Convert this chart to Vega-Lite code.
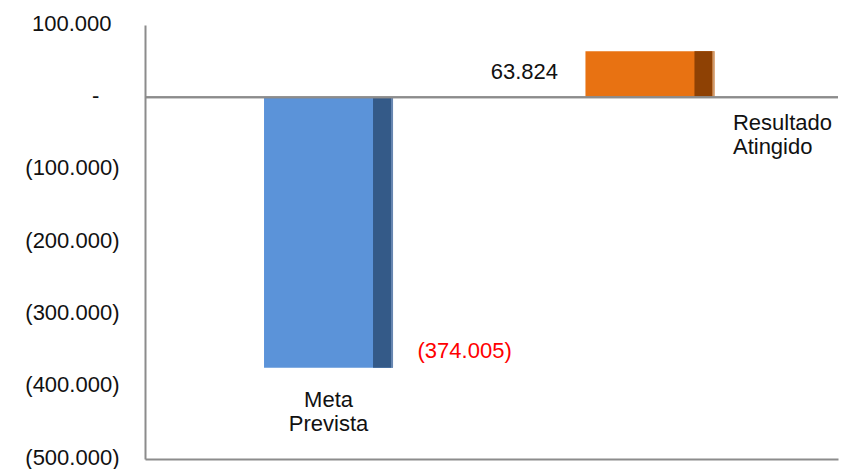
{
  "$schema": "https://vega.github.io/schema/vega-lite/v6.json",
  "width": 693,
  "height": 434,
  "autosize": {"type": "none"},
  "padding": {"left": 145, "top": 25, "right": 6, "bottom": 10},
  "background": "white",
  "config": {
    "locale": {"number": {"decimal": ",", "thousands": ".", "grouping": [3], "currency": ["R$", ""]}},
    "view": {"stroke": null},
    "font": "Liberation Sans",
    "text": {"font": "Liberation Sans", "fontSize": 22}
  },
  "data": {
    "values": [
      {"categoria": "Meta Prevista", "valor": -374005},
      {"categoria": "Resultado Atingido", "valor": 63824}
    ]
  },
  "encoding": {
    "x": {
      "field": "categoria",
      "type": "nominal",
      "sort": null,
      "scale": {"paddingInner": 0, "paddingOuter": 0.078, "align": 0.455},
      "axis": {
        "title": null,
        "labels": false,
        "ticks": false,
        "domainColor": "#8c8c8c",
        "domainWidth": 2,
        "orient": "bottom"
      }
    },
    "y": {
      "field": "valor",
      "type": "quantitative",
      "scale": {"domain": [-500000, 100000], "nice": false, "zero": false},
      "axis": {
        "title": null,
        "values": [-500000, -400000, -300000, -200000, -100000, 0, 100000],
        "format": "(,.0f",
        "labelExpr": "datum.value == 0 ? '-\u00a0\u00a0\u00a0\u200a\u200b' : (datum.value > 0 ? datum.label + '\u00a0\u200a\u200b' : datum.label)",
        "grid": false,
        "ticks": false,
        "domainColor": "#8c8c8c",
        "domainWidth": 2,
        "labelPadding": 26,
        "labelOffset": -2,
        "labelFont": "Liberation Sans",
        "labelFontSize": 22,
        "labelColor": "#111111"
      }
    }
  },
  "layer": [
    {
      "mark": {"type": "bar", "width": 129},
      "encoding": {
        "y2": {"datum": 0},
        "color": {
          "field": "categoria",
          "type": "nominal",
          "scale": {"domain": ["Meta Prevista", "Resultado Atingido"], "range": ["#5B93D9", "#E87212"]},
          "legend": null
        }
      }
    },
    {
      "mark": {"type": "bar", "width": 18, "xOffset": 53.5},
      "encoding": {
        "y2": {"datum": 0},
        "color": {
          "field": "categoria",
          "type": "nominal",
          "scale": {"domain": ["Meta Prevista", "Resultado Atingido"], "range": ["#345A88", "#8E4104"]},
          "legend": null
        }
      }
    },
    {
      "mark": {"type": "bar", "width": 2, "xOffset": 63.5},
      "encoding": {
        "y2": {"datum": 0},
        "color": {
          "field": "categoria",
          "type": "nominal",
          "scale": {"domain": ["Meta Prevista", "Resultado Atingido"], "range": ["#6786B0", "#C99A70"]},
          "legend": null
        }
      }
    },
    {
      "mark": {"type": "rule", "color": "#8c8c8c", "strokeWidth": 2},
      "encoding": {"y": {"datum": 0}, "x": null}
    },
    {
      "transform": [{"filter": "datum.categoria == 'Meta Prevista'"}],
      "mark": {"type": "text", "align": "left", "baseline": "middle", "dx": 89, "dy": -17, "color": "#FF0000"},
      "encoding": {"text": {"field": "valor", "type": "quantitative", "format": "(,.0f"}}
    },
    {
      "transform": [{"filter": "datum.categoria == 'Resultado Atingido'"}],
      "mark": {"type": "text", "align": "right", "baseline": "middle", "dx": -92, "dy": 21, "color": "#111111"},
      "encoding": {"text": {"field": "valor", "type": "quantitative", "format": "(,.0f"}}
    },
    {
      "transform": [{"filter": "datum.categoria == 'Meta Prevista'"}],
      "mark": {"type": "text", "align": "center", "baseline": "middle", "dy": 32, "lineBreak": " ", "lineHeight": 24, "color": "#111111"},
      "encoding": {"text": {"field": "categoria", "type": "nominal"}}
    },
    {
      "transform": [{"filter": "datum.categoria == 'Resultado Atingido'"}],
      "mark": {"type": "text", "align": "left", "baseline": "middle", "dx": 83, "dy": 26, "lineBreak": " ", "lineHeight": 24, "color": "#111111"},
      "encoding": {"text": {"field": "categoria", "type": "nominal"}, "y": {"datum": 0}}
    }
  ],
  "resolve": {"scale": {"color": "independent"}}
}
